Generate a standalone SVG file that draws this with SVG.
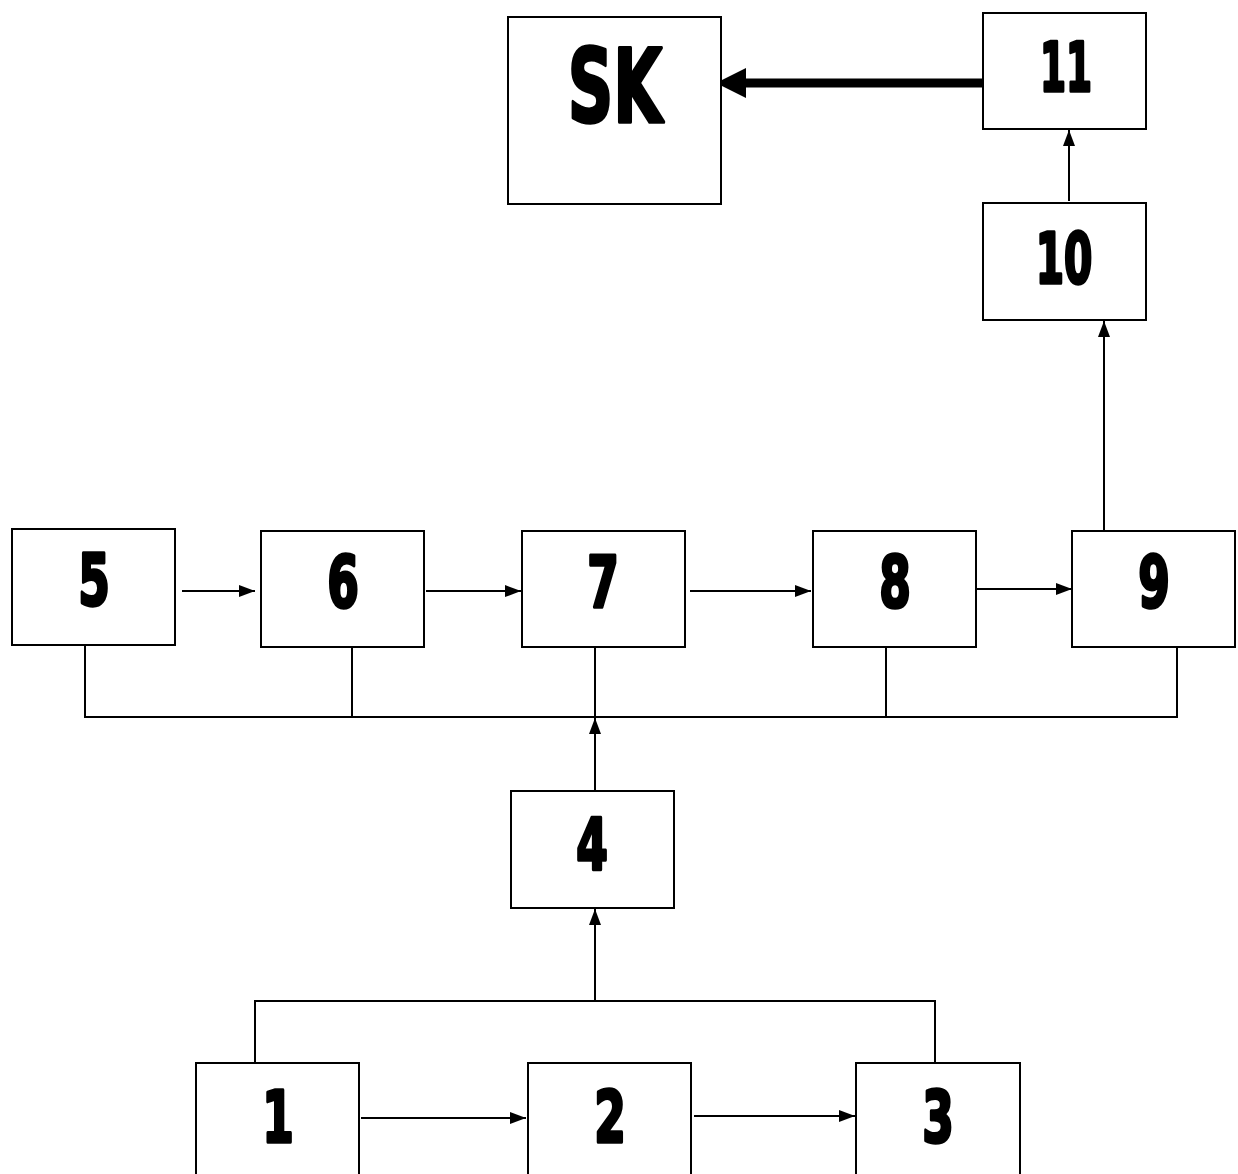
<svg xmlns="http://www.w3.org/2000/svg" width="1238" height="1174" viewBox="0 0 1238 1174">
<style>
.box{fill:#fff;stroke:#000;stroke-width:2}
.lbl{font-family:"DejaVu Sans","Liberation Sans",sans-serif;font-weight:bold;font-size:71px;text-anchor:middle;fill:#000;stroke:#000;stroke-width:3.5;stroke-linejoin:round}
.ln{fill:none;stroke:#000;stroke-width:2}
</style>
<defs>
<marker id="ah" markerUnits="userSpaceOnUse" markerWidth="17" markerHeight="14" refX="16" refY="7" orient="auto">
<path d="M0,1 L16,7 L0,13 Z" fill="#000"/>
</marker>
</defs>
<rect width="1238" height="1174" fill="#fff"/>
<g id="connectors">
<line x1="983" y1="83" x2="745" y2="83" stroke="#000" stroke-width="9"/>
<polygon points="716,83 746,68 746,98" fill="#000"/>
<line class="ln" x1="1069" y1="201" x2="1069" y2="130" marker-end="url(#ah)"/>
<line class="ln" x1="1104" y1="531" x2="1104" y2="321" marker-end="url(#ah)"/>
<line class="ln" x1="182" y1="591" x2="255" y2="591" marker-end="url(#ah)"/>
<line class="ln" x1="426" y1="591" x2="521" y2="591" marker-end="url(#ah)"/>
<line class="ln" x1="690" y1="591" x2="811" y2="591" marker-end="url(#ah)"/>
<line class="ln" x1="977" y1="589" x2="1072" y2="589" marker-end="url(#ah)"/>
<polyline class="ln" points="85,645 85,717 1177,717 1177,647"/>
<line class="ln" x1="352" y1="647" x2="352" y2="717"/>
<line class="ln" x1="886" y1="647" x2="886" y2="717"/>
<line class="ln" x1="595" y1="647" x2="595" y2="717"/>
<line class="ln" x1="595" y1="791" x2="595" y2="718" marker-end="url(#ah)"/>
<line class="ln" x1="595" y1="1001" x2="595" y2="909" marker-end="url(#ah)"/>
<polyline class="ln" points="255,1063 255,1001 935,1001 935,1063"/>
<line class="ln" x1="361" y1="1118" x2="526" y2="1118" marker-end="url(#ah)"/>
<line class="ln" x1="694" y1="1116" x2="855" y2="1116" marker-end="url(#ah)"/>
</g>
<g id="nodeSK"><rect class="box" x="508" y="17" width="213" height="187"/><text class="lbl" style="font-size:102px" transform="translate(615,122) scale(0.62,1)">SK</text></g>
<g id="node11"><rect class="box" x="983" y="13" width="163" height="116"/><text class="lbl" style="font-size:68px" transform="translate(1066,91) scale(0.55,1)">11</text></g>
<g id="node10"><rect class="box" x="983" y="203" width="163" height="117"/><text class="lbl" style="font-size:69px" transform="translate(1064,283) scale(0.59,1)">10</text></g>
<g id="node5"><rect class="box" x="12" y="529" width="163" height="116"/><text class="lbl" transform="translate(94,605) scale(0.64,1)">5</text></g>
<g id="node6"><rect class="box" x="261" y="531" width="163" height="116"/><text class="lbl" transform="translate(343,607) scale(0.64,1)">6</text></g>
<g id="node7"><rect class="box" x="522" y="531" width="163" height="116"/><text class="lbl" transform="translate(603,607) scale(0.64,1)">7</text></g>
<g id="node8"><rect class="box" x="813" y="531" width="163" height="116"/><text class="lbl" transform="translate(895,607) scale(0.64,1)">8</text></g>
<g id="node9"><rect class="box" x="1072" y="531" width="163" height="116"/><text class="lbl" transform="translate(1154,607) scale(0.64,1)">9</text></g>
<g id="node4"><rect class="box" x="511" y="791" width="163" height="117"/><text class="lbl" transform="translate(592,869) scale(0.64,1)">4</text></g>
<g id="node1"><rect class="box" x="196" y="1063" width="163" height="130"/><text class="lbl" transform="translate(278,1142) scale(0.64,1)">1</text></g>
<g id="node2"><rect class="box" x="528" y="1063" width="163" height="130"/><text class="lbl" transform="translate(610,1142) scale(0.64,1)">2</text></g>
<g id="node3"><rect class="box" x="856" y="1063" width="164" height="130"/><text class="lbl" transform="translate(938,1142) scale(0.64,1)">3</text></g>
</svg>
